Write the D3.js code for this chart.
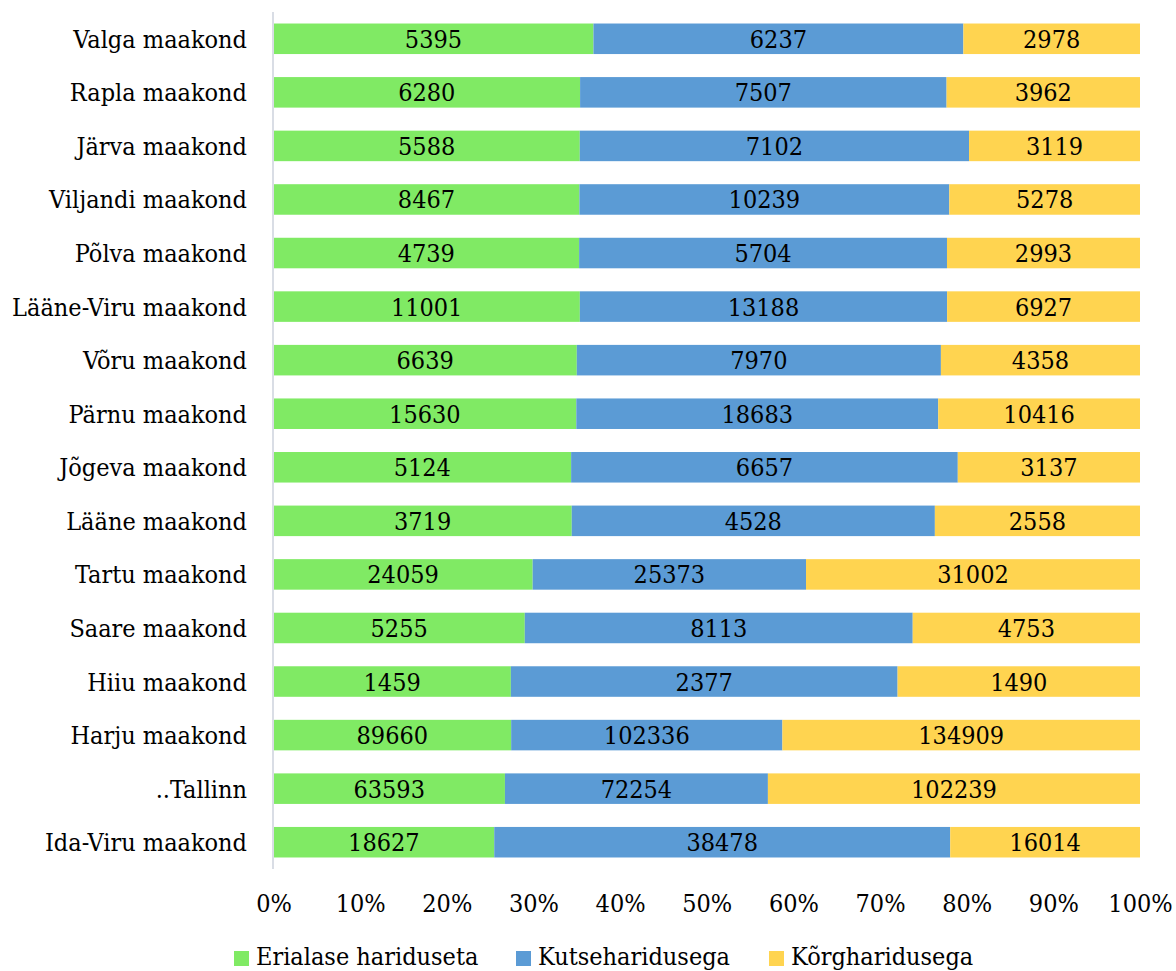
<!DOCTYPE html>
<html><head><meta charset="utf-8">
<script src="https://cdn.jsdelivr.net/npm/d3@7/dist/d3.min.js"></script>
<style>
body{margin:0;background:#fff;}
svg text{font-family:"DejaVu Serif Condensed","DejaVu Serif",serif;font-stretch:condensed;fill:#000;}
</style></head>
<body><svg id="c" width="1176" height="971"></svg>
<script>
const categories = ["Valga maakond","Rapla maakond","Järva maakond","Viljandi maakond","Põlva maakond","Lääne-Viru maakond","Võru maakond","Pärnu maakond","Jõgeva maakond","Lääne maakond","Tartu maakond","Saare maakond","Hiiu maakond","Harju maakond","..Tallinn","Ida-Viru maakond"];
const erialaseta = [5395,6280,5588,8467,4739,11001,6639,15630,5124,3719,24059,5255,1459,89660,63593,18627];
const kutse = [6237,7507,7102,10239,5704,13188,7970,18683,6657,4528,25373,8113,2377,102336,72254,38478];
const korg = [2978,3962,3119,5278,2993,6927,4358,10416,3137,2558,31002,4753,1490,134909,102239,16014];
const seriesNames = ["Erialase hariduseta","Kutseharidusega","Kõrgharidusega"];
const colors = ["#80ea64","#5b9bd5","#ffd450"];
const tickValues = [0,0.1,0.2,0.3,0.4,0.5,0.6,0.7,0.8,0.9,1];

const svg = d3.select("#c");
const x = d3.scaleLinear().domain([0,1]).range([273.5,1140]);
const y = d3.scaleBand().domain(categories).range([12,869]).paddingInner(0.43).paddingOuter(0.215);

const rows = categories.map((c,i)=>({cat:c, vals:[erialaseta[i],kutse[i],korg[i]]}));
const segs = [];
rows.forEach(r=>{
  const tot = d3.sum(r.vals); let acc=0;
  r.vals.forEach((v,k)=>{ segs.push({cat:r.cat,k,v,x0:acc/tot,x1:(acc+v)/tot}); acc+=v; });
});

const FS = 25;

svg.selectAll("rect.seg").data(segs).join("rect").attr("class","seg")
  .attr("x",d=>x(d.x0)).attr("width",d=>x(d.x1)-x(d.x0))
  .attr("y",d=>y(d.cat)).attr("height",y.bandwidth())
  .attr("fill",d=>colors[d.k]);

svg.selectAll("text.val").data(segs).join("text").attr("class","val")
  .attr("x",d=>(x(d.x0)+x(d.x1))/2).attr("y",d=>y(d.cat)+y.bandwidth()/2)
  .attr("dy","0.36em").attr("text-anchor","middle").attr("font-size",FS)
  .text(d=>d.v);

// axis line
svg.append("line").attr("x1",273).attr("x2",273).attr("y1",12).attr("y2",869)
  .attr("stroke","#d9dde5").attr("stroke-width",2);

// category labels
svg.selectAll("text.cat").data(categories).join("text").attr("class","cat")
  .attr("x",247).attr("y",d=>y(d)+y.bandwidth()/2).attr("dy","0.36em")
  .attr("text-anchor","end").attr("font-size",FS).text(d=>d);

// x axis
const ax = svg.append("g").attr("transform","translate(0,903)")
  .call(d3.axisBottom(x).tickValues(tickValues).tickFormat(d3.format(".0%")).tickSize(0).tickPadding(0));
ax.select(".domain").remove();
ax.selectAll("text").attr("font-size",FS).attr("dy","0.36em").style("font-family",null);

// legend
const legX = [234,516,769];
const lg = svg.selectAll("g.leg").data(seriesNames).join("g").attr("class","leg")
  .attr("transform",(d,i)=>`translate(${legX[i]},951)`);
lg.append("rect").attr("width",15).attr("height",15).attr("fill",(d,i)=>colors[i]);
lg.append("text").attr("x",22).attr("y",14).attr("font-size",FS).text(d=>d);
</script></body></html>
